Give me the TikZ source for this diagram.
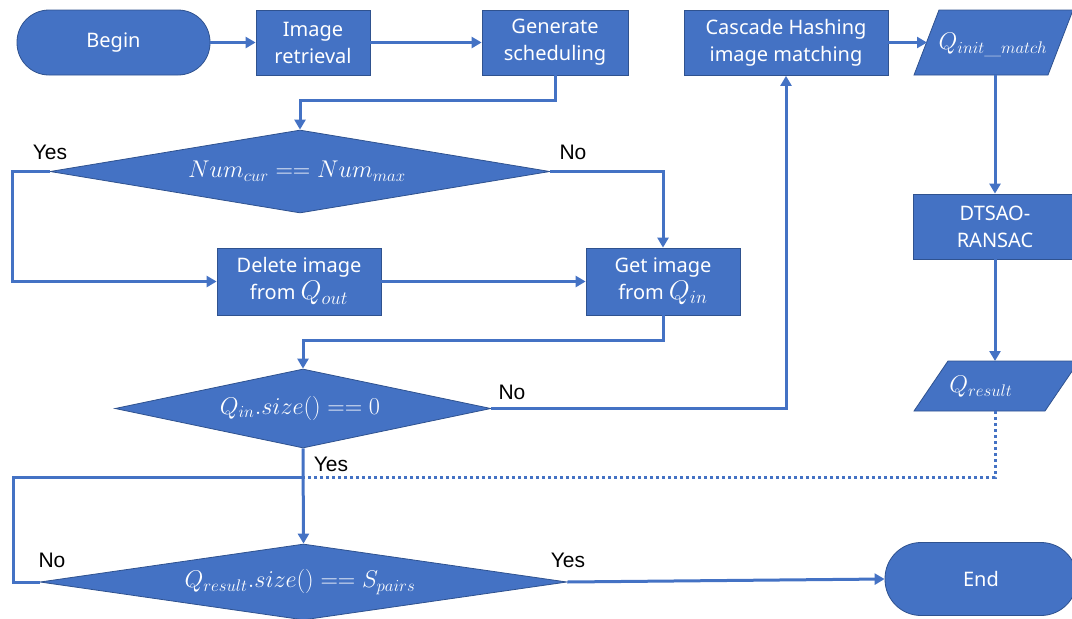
\documentclass[tikz,border=0pt]{standalone}
\usepackage{fontspec}
\usepackage{graphicx}
\usetikzlibrary{shapes.geometric,arrows.meta}
\newfontfamily\boxfont{Noto Sans}
\newfontfamily\labfont{Liberation Sans}
\newcommand{\bigmth}[1]{\scalebox{1.4}{$#1$}}
\newcommand{\midmth}[1]{\scalebox{1.3}{$#1$}}
\definecolor{flowblue}{HTML}{4472C4}
\definecolor{flowedge}{HTML}{2F528F}
\tikzset{
  x=1pt, y=-1pt,
  shapebox/.style={draw=flowedge, line width=0.8pt, fill=flowblue, text=white,
    font=\boxfont\fontsize{20}{27}\selectfont, align=center, inner sep=0pt},
  procbox/.style={shapebox, rectangle},
  termbox/.style={shapebox, rectangle, rounded corners=32pt},
  decbox/.style={shapebox, diamond},
  conn/.style={draw=flowblue, line width=3pt},
  arr/.style={conn, -{Triangle[length=10pt,width=11pt]}},
  dotconn/.style={draw=flowblue, line width=3pt, dash pattern=on 3pt off 3pt},
  lab/.style={font=\labfont\fontsize{21}{22}\selectfont, text=black, inner sep=0pt},
  mathtxt/.style={text=white, font=\fontsize{17.28}{20}\selectfont, inner sep=0pt}
}
\begin{document}
\begin{tikzpicture}
\useasboundingbox (0,0) rectangle (1072,619);
% top row
\node[termbox, minimum width=193pt, minimum height=65pt] (begin) at (113.5,42.5) {Begin};
\node[procbox, minimum width=114pt, minimum height=65pt] (imgret) at (313,42.5) {Image\\retrieval};
\node[procbox, minimum width=146pt, minimum height=65pt] (gensch) at (555,42.5) {Generate\\scheduling};
\node[procbox, minimum width=204pt, minimum height=65pt] (cascade) at (786,43) {Cascade Hashing\\image matching};
% Q_init parallelogram
\draw[draw=flowedge, line width=0.8pt, fill=flowblue] (914,75) -- (939,10) -- (1073,10) -- (1048,75) -- cycle;
\node[mathtxt] (qinit) at (993,45) {\bigmth{Q_{init\_match}}};
\coordinate (qinitL) at (927,42.5);
\coordinate (qinitB) at (995,75);
% decision 1
\node[decbox, minimum width=500pt, minimum height=83pt] (d1) at (300,171.5) {};
\node[mathtxt] (d1t) at (297,171) {\bigmth{Num_{cur} == Num_{max}}};
\node[procbox, minimum width=164pt, minimum height=67pt] (del) at (299,281.5) {Delete image\\from \midmth{Q_{out}}};
\node[procbox, minimum width=154pt, minimum height=67pt] (get) at (663,281.5) {Get image\\from \midmth{Q_{in}}};
% decision 2
\node[decbox, minimum width=376pt, minimum height=79pt] (d2) at (303,408.5) {};
\node[mathtxt] (d2t) at (300,408) {\bigmth{Q_{in}.size() == 0}};
% right column
\node[procbox, minimum width=164pt, minimum height=65pt] (dtsao) at (995,226.5) {DTSAO-\\RANSAC};
\draw[draw=flowedge, line width=0.8pt, fill=flowblue] (914,411) -- (948,361) -- (1079,361) -- (1045,411) -- cycle;
\node[mathtxt] (qres) at (981,387) {\bigmth{Q_{result}}};
\coordinate (qresT) at (995,361);
\coordinate (qresB) at (995,411);
% decision 3
\node[decbox, minimum width=527pt, minimum height=76pt] (d3) at (303.5,582) {};
\node[mathtxt] (d3t) at (300,582) {\bigmth{Q_{result}.size() == S_{pairs}}};
\node[termbox, minimum width=192pt, minimum height=73pt, rounded corners=36pt] (end) at (981,579) {End};
% junction
\coordinate (junc) at (303,477);
% connectors
\draw[arr] (begin.east) -- (imgret.west);
\draw[arr] (imgret.east) -- (gensch.west);
\draw[arr] (gensch.south) -- ++(0,25) -| (d1.north);
\draw[arr] (d1.west) -- ++(-37,0) |- (del.west);
\draw[arr] (d1.east) -| (get.north);
\draw[arr] (del.east) -- (get.west);
\draw[arr] (get.south) -- ++(0,25.5) -| (d2.north);
\draw[arr] (d2.east) -| (cascade.south);
\draw[arr] (cascade.east |- qinitL) -- (qinitL);
\draw[arr] (qinitB) -- (dtsao.north);
\draw[arr] (dtsao.south) -- (qresT);
\draw[dotconn] (qresB) |- (junc);
\draw[arr] (d2.south) -- (d3.north);
\draw[conn] (d3.west) -- ++(-26,0) |- (junc);
\draw[arr] (d3.east) -- (end.west);
% labels
\node[lab] (l1) at (50,152) {Yes};
\node[lab] (l2) at (573,152) {No};
\node[lab] (l3) at (512,392) {No};
\node[lab] (l4) at (331,464) {Yes};
\node[lab] (l5) at (52,560) {No};
\node[lab] (l6) at (568,560) {Yes};
\end{tikzpicture}
\end{document}
